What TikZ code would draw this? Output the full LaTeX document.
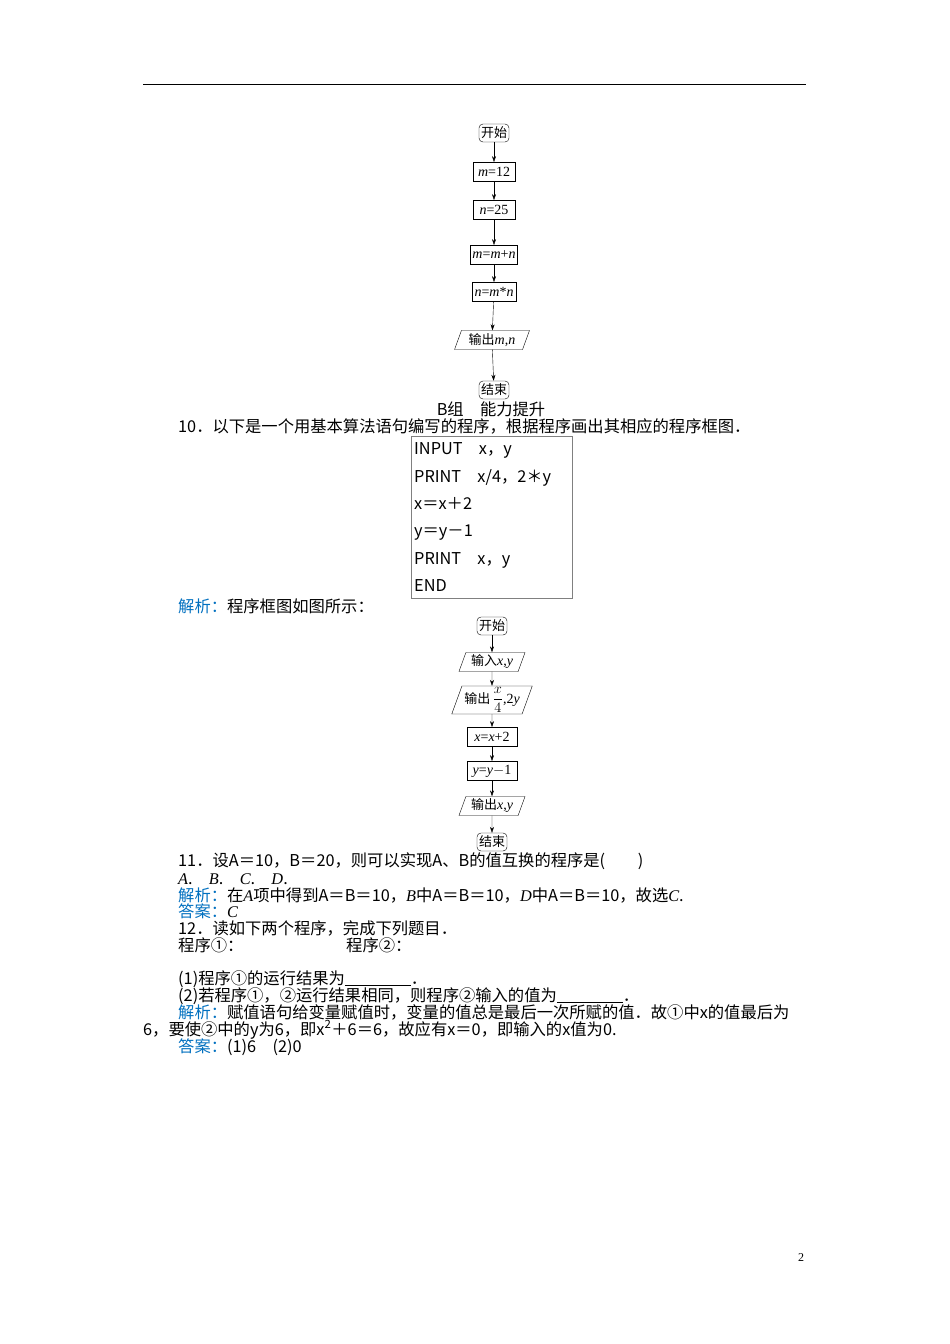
\documentclass[tikz,border=0pt]{standalone}
\usepackage{fontspec}
\setmainfont{Liberation Serif}
\newfontfamily\cjk{Noto Sans CJK SC}
\usetikzlibrary{shapes.geometric,arrows.meta}
\definecolor{ansblue}{RGB}{0,112,192}
\newcommand{\li}[1]{{\rmfamily\itshape #1}}
\tikzset{
 txt/.style={anchor=base west,inner sep=0pt,font=\cjk\fontsize{16.3}{19}\selectfont},
 fbox/.style={draw,thick,minimum height=19pt,inner sep=2pt,font=\fontsize{14}{15}\selectfont\itshape},
 term/.style={draw,rounded corners=4pt,minimum height=18pt,inner sep=2pt,font=\cjk\fontsize{13}{14}\selectfont},
 io/.style={draw,trapezium,trapezium left angle=70,trapezium right angle=110,minimum height=19pt,inner sep=1pt,font=\fontsize{14}{15}\selectfont},
 arr/.style={-{Stealth[length=6pt,width=4pt]}},
}
\begin{document}
\begin{tikzpicture}[x=1pt,y=-1pt]
\useasboundingbox (0,0) rectangle (950,1344);
\fill[white] (0,0) rectangle (950,1344);
\draw (143,84) -- (806,84);
% flowchart 1
\node[term] (s1) at (494,133) {开始};
\node[fbox,minimum width=42pt] (a1) at (494,172) {m\upshape=12};
\node[fbox,minimum width=42pt] (a2) at (494,210) {n\upshape=25};
\node[fbox,minimum width=44pt] (a3) at (494,255) {m\upshape=\itshape m\upshape+\itshape n};
\node[fbox,minimum width=44pt] (a4) at (494,292) {n\upshape=\itshape m\upshape*\itshape n};
\node[io,minimum width=48pt] (a5) at (492,340) {{\cjk\fontsize{13}{14}\selectfont 输出}\textit{m},\textit{n}};
\node[term] (e1) at (494,390) {结束};
\foreach \u/\v in {s1/a1,a1/a2,a2/a3,a3/a4,a4/a5,a5/e1} \draw[arr] (\u) -- (\v);
\node[txt,anchor=base] (bz) at (491,415) {B组\quad 能力提升};
\node[txt] (q10) at (178,432) {10．以下是一个用基本算法语句编写的程序，根据程序画出其相应的程序框图．};
\draw[gray] (411,436) rectangle (572,598);
\node[txt] (p1) at (414,454) {INPUT\quad x，y};
\node[txt] (p2) at (414,482) {PRINT\quad x/4，2＊y};
\node[txt] (p3) at (414,509) {x＝x＋2};
\node[txt] (p4) at (414,536) {y＝y－1};
\node[txt] (p5) at (414,564) {PRINT\quad x，y};
\node[txt] (p6) at (414,591) {END};
\node[txt] (jx1) at (178,612) {\textcolor{ansblue}{解析：}程序框图如图所示：};
% flowchart 2
\node[term] (s2) at (492,626) {开始};
\node[io,minimum width=50pt] (b1) at (492,662) {{\cjk\fontsize{13}{14}\selectfont 输入}\textit{x},\textit{y}};
\node[io,minimum width=62pt,minimum height=28pt,inner sep=0pt] (b2) at (492,700) {{\cjk\fontsize{13}{14}\selectfont 输出}\,$\displaystyle\frac{x}{4}$,2\textit{y}};
\node[fbox,minimum width=50pt] (b3) at (492,737) {x\upshape=\itshape x\upshape+2};
\node[fbox,minimum width=50pt] (b4) at (492,771) {y\upshape=\itshape y\upshape$-$1};
\node[io,minimum width=50pt] (b5) at (492,806) {{\cjk\fontsize{13}{14}\selectfont 输出}\textit{x},\textit{y}};
\node[term] (e2) at (492,842) {结束};
\foreach \u/\v in {s2/b1,b1/b2,b2/b3,b3/b4,b4/b5,b5/e2} \draw[arr] (\u) -- (\v);
\node[txt] (q11) at (178,866) {11．设A＝10，B＝20，则可以实现A、B的值互换的程序是(\qquad)};
\node[txt] (opt) at (178,884) {\li{A}.\quad\li{B}.\quad\li{C}.\quad\li{D}.};
\node[txt] (jx2) at (178,901) {\textcolor{ansblue}{解析：}在\li{A}项中得到A＝B＝10，\li{B}中A＝B＝10，\li{D}中A＝B＝10，故选\li{C}.};
\node[txt] (da1) at (178,917) {\textcolor{ansblue}{答案：}\li{C}};
\node[txt] (q12) at (178,934) {12．读如下两个程序，完成下列题目．};
\node[txt] (c1) at (178,951) {程序①：};
\node[txt] (c2) at (346,951) {程序②：};
\node[txt] (s12a) at (178,984) {(1)程序①的运行结果为\underline{\hspace{66pt}}．};
\node[txt] (s12b) at (178,1001) {(2)若程序①，②运行结果相同，则程序②输入的值为\underline{\hspace{66pt}}．};
\node[txt] (jx3) at (178,1018) {\textcolor{ansblue}{解析：}赋值语句给变量赋值时，变量的值总是最后一次所赋的值．故①中x的值最后为};
\node[txt] (jx3b) at (143,1035) {6，要使②中的y为6，即x\textsuperscript{2}＋6＝6，故应有x＝0，即输入的x值为0.};
\node[txt] (da2) at (178,1052) {\textcolor{ansblue}{答案：}(1)6\quad(2)0};
\node[txt,font=\fontsize{12}{14}\selectfont] (pg) at (798,1261) {2};
\end{tikzpicture}
\end{document}
